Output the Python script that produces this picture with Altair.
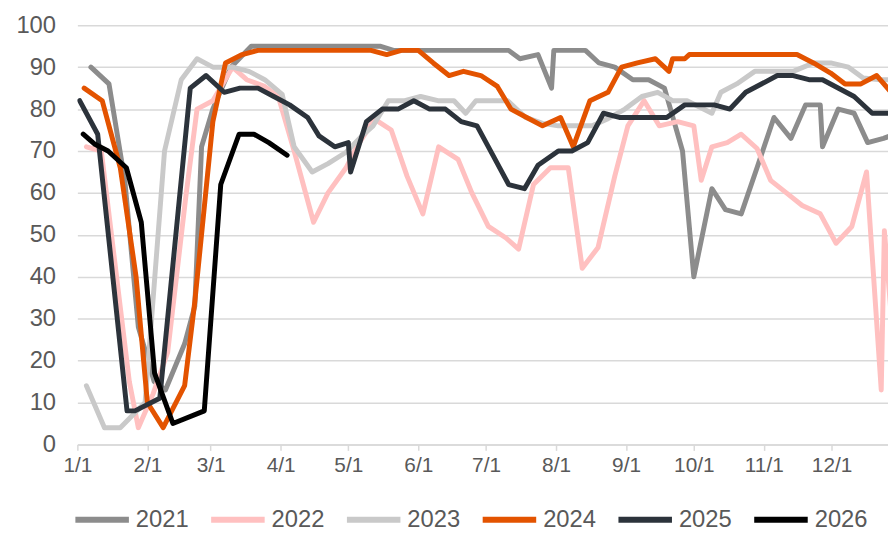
import altair as alt
import pandas as pd

years = ["2021", "2022", "2023", "2024", "2025", "2026"]
colors = ["#8c8c8c", "#ffc0c0", "#c9c9c9", "#e35300", "#2c333b", "#000000"]

# day-of-year (0 = Jan 1) and values
d2021 = [6, 14, 21, 27, 34, 39, 47.5, 52, 55, 60, 68, 77, 134, 140, 191, 196, 204, 210, 211,
         225, 231, 238, 246, 253, 260, 268, 273, 281, 287, 294, 301, 308.5, 316, 322.5, 329,
         330, 337, 344, 350, 357, 362]
v2021 = [90, 86, 63, 28, 15, 13, 24, 33, 71, 80, 90, 95, 95, 94, 94, 92, 93, 85, 94,
         94, 91, 90, 87, 87, 85, 70, 40, 61, 56, 55, 66, 78, 73, 81, 81,
         71, 80, 79, 72, 73, 74]

d2022 = [4, 10.6, 23, 27, 33.5, 40, 48, 53, 60, 68.7, 75, 82.6, 89, 96, 104.6, 111, 119, 123.7,
         131.6, 139, 146, 153, 160, 168.6, 174.7, 182, 189.7, 195.4, 202, 209.5, 217.4, 223.6,
         230.6, 238, 243.8, 251, 257.7, 265.8, 273, 276.3, 281, 287.8, 294, 301, 307, 314, 321,
         329, 336, 343, 349.5, 356, 357.4, 362]
v2022 = [71, 70, 15, 4, 12, 22, 59, 80, 82, 90, 87, 85.5, 83, 70, 53, 60, 66, 71,
         77.6, 75, 64, 55, 71, 68, 60, 52, 49.3, 46.6, 62, 66, 66, 42,
         47, 64, 76, 82, 76, 77, 76, 63, 71, 72, 74, 70.6, 63, 60, 57,
         55, 48, 52, 65, 13, 51, 20]

d2023 = [4, 12, 19, 30, 38.6, 46, 53, 60, 68.7, 76, 83, 90.7, 96, 104, 111, 119, 126, 131,
         137.7, 145, 152, 159.7, 166.8, 172, 176.5, 184, 190.6, 198.5, 206, 213, 220.5, 228,
         235, 242.5, 250, 257, 263.6, 270, 281, 285, 292, 300, 317, 326, 333.6, 341.5, 348,
         355.6, 362]
v2023 = [14, 4, 4, 10, 70, 87, 92, 90, 90, 89, 87, 83.5, 71, 65, 67, 69.7, 73.6, 76,
         82, 82, 83, 82, 82, 79, 82, 82, 82, 78, 76.6, 76, 76, 76,
         77.7, 80, 83, 84, 82, 82, 79, 84, 86, 89, 89, 91, 91, 90, 87.4,
         87, 87]

d2024 = [3, 11, 19, 26, 31, 38, 47.5, 52, 60, 65.6, 73, 80, 130, 137, 143.5, 151, 157.6, 164.6,
         171, 178.7, 186, 192, 199, 206, 214, 219.6, 227, 235, 241, 248, 256, 262, 263.6, 269,
         271, 318.7, 326, 333.6, 340, 347, 354, 362]
v2024 = [85, 82, 66, 40, 10, 4, 14, 34, 77, 91, 93, 94, 94, 93, 94, 94, 91, 88,
         89, 88, 85.4, 80, 78, 76, 78, 71, 82, 84, 90, 91, 92, 89, 92, 92,
         93, 93, 91, 88.6, 86, 86, 88, 83]

d2025 = [1, 9, 22, 25.5, 36.5, 50, 57, 65, 72, 80, 87, 94, 102, 107, 114, 120, 121, 128, 135,
         142, 149, 156, 163, 170, 177, 184, 191, 198, 204, 213, 219, 226, 233, 240, 261, 269,
         282, 289, 296, 310, 317, 324, 330, 344, 352, 362]
v2025 = [82, 74, 8, 8, 11, 85, 88, 84, 85, 85, 83, 81, 78, 73.6, 71, 72, 65, 77, 80,
         80, 82, 80, 80, 77, 76, 69, 62, 61, 66.6, 70, 70, 72, 79, 78, 78, 81,
         81, 80, 84, 88, 88, 87, 87, 83, 79, 79]

d2026 = [2.6, 7.8, 13.6, 21.7, 28.3, 34.2, 42.3, 56.2, 63.5, 71.6, 78.2, 84.8, 92.9]
v2026 = [74, 71.6, 70, 66, 53, 17, 5, 8, 62, 74, 74, 72, 69]

month_days = [0, 31, 59, 90, 120, 151, 181, 212, 243, 273, 304, 334]
month_labels = ["1/1", "2/1", "3/1", "4/1", "5/1", "6/1", "7/1", "8/1", "9/1", "10/1", "11/1", "12/1"]
y_ticks = [0, 10, 20, 30, 40, 50, 60, 70, 80, 90, 100]

days_all = [d2021, d2022, d2023, d2024, d2025, d2026]
vals_all = [v2021, v2022, v2023, v2024, v2025, v2026]

rows = []
for yr, ds, vs in zip(years, days_all, vals_all):
    for i, (dd, vv) in enumerate(zip(ds, vs)):
        rows.append({"year": yr, "day": dd, "value": vv, "order": i})
df = pd.DataFrame(rows)

label_expr = ("[" + ",".join("'%s'" % l for l in month_labels) + "][indexof(["
              + ",".join(str(d) for d in month_days) + "], datum.value)]")

FONT = "Liberation Sans"
TXT = "#595959"
GRID = "#d9d9d9"

chart = alt.Chart(df).mark_line(
    strokeWidth=5, strokeJoin="round", strokeCap="round", clip=True
).encode(
    x=alt.X("day:Q",
            scale=alt.Scale(domain=[0, 359], nice=False, zero=False),
            axis=alt.Axis(values=month_days, labelExpr=label_expr, title=None, grid=False,
                          domainColor=GRID, domainWidth=1.5, tickColor=GRID, tickWidth=1.5,
                          tickSize=6, labelFont=FONT, labelFontSize=21, labelColor=TXT,
                          labelPadding=4, labelAngle=0, labelFlush=False, labelOverlap=False)),
    y=alt.Y("value:Q",
            scale=alt.Scale(domain=[0, 100], nice=False),
            axis=alt.Axis(values=y_ticks, title=None, domain=False, ticks=False, tickSize=0,
                          gridColor=GRID, gridWidth=1.5, labelFont=FONT, labelFontSize=24,
                          labelColor=TXT, labelPadding=22)),
    color=alt.Color("year:N",
                    scale=alt.Scale(domain=years, range=colors),
                    legend=alt.Legend(orient="none", legendX=-5, legendY=469,
                                      direction="horizontal", title=None,
                                      symbolType="stroke", symbolSize=2916,
                                      symbolStrokeWidth=6, labelFont=FONT,
                                      labelFontSize=24, labelColor=TXT, labelOffset=4,
                                      columnPadding=10, padding=0)),
    order="order:Q",
).properties(
    width=818, height=423,
    autosize=alt.AutoSizeParams(type="none"),
    padding={"left": 70, "top": 15, "right": 0, "bottom": 88},
    background="white",
).configure_view(stroke=None)

chart.save("out.html", embed_options={"renderer": "svg", "actions": False})
